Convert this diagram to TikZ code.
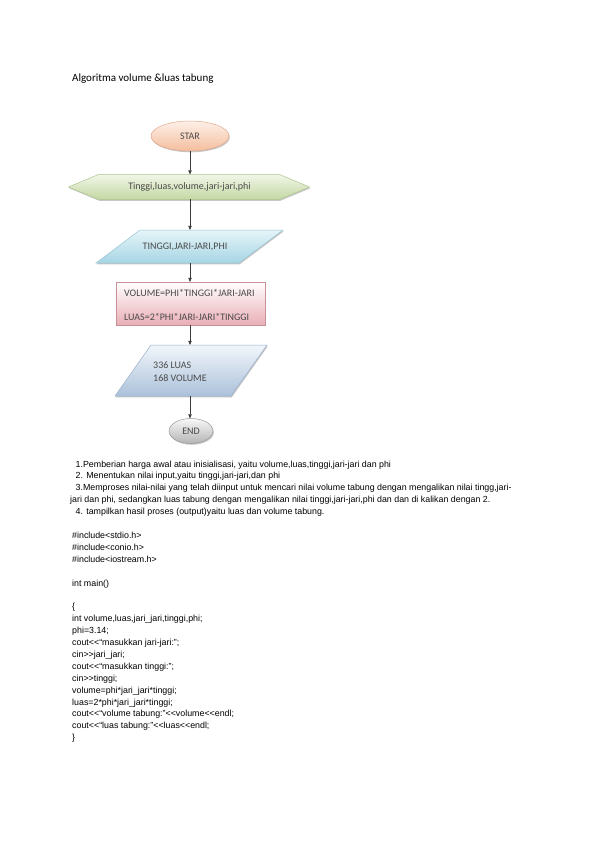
\documentclass[tikz,border=0pt]{standalone}
\usepackage{fontspec}
\setmainfont{Liberation Sans}[Ligatures=TeXOff]
\newfontfamily\calfont{Carlito}
\usetikzlibrary{shapes.geometric,arrows.meta,backgrounds,shadows}
\definecolor{fcgray}{HTML}{4A4A4A}
\definecolor{arrgray}{HTML}{3A3A3A}
\definecolor{starT}{HTML}{FDF0E8}
\definecolor{starB}{HTML}{F5BE9E}
\definecolor{starD}{HTML}{E4A888}
\definecolor{hexT}{HTML}{F1F6E8}
\definecolor{hexB}{HTML}{C4D8A2}
\definecolor{hexD}{HTML}{AFC68C}
\definecolor{ioaT}{HTML}{E6F5F9}
\definecolor{ioaB}{HTML}{A6D5E4}
\definecolor{ioaD}{HTML}{98C4D4}
\definecolor{rectB}{HTML}{E9AEB6}
\definecolor{rectD}{HTML}{C99098}
\definecolor{iobT}{HTML}{F2F6FB}
\definecolor{iobB}{HTML}{ABC1DA}
\definecolor{iobD}{HTML}{98B0CC}
\definecolor{endT}{HTML}{F8F8F8}
\definecolor{endB}{HTML}{B4B4B4}
\definecolor{endD}{HTML}{9A9A9A}
\begin{document}
\begin{tikzpicture}[x=1pt,y=-1pt,
  ph/.style={inner sep=0pt, outer sep=0pt, draw=none},
  fc/.style={font=\calfont\fontsize{10}{12}\selectfont, text=fcgray, inner sep=0pt},
  bodytext/.style={font=\fontsize{8.85}{11}\selectfont, anchor=base west, inner sep=0pt},
  arr/.style={draw=arrgray, line width=0.6pt, -{Triangle[width=3.4pt,length=4.2pt]}},
  sh/.style={drop shadow={shadow xshift=0.8pt, shadow yshift=-1.3pt, opacity=0.22, fill=black}},
  edge/.style={line width=0.5pt}]
\useasboundingbox (0,0) rectangle (595,842);

% title
\node[font=\calfont\fontsize{11}{13}\selectfont, anchor=base west, inner sep=0pt] (title) at (72,81.5) {Algoritma volume \&luas tabung};

% flowchart
\node[ellipse, ph, minimum width=78pt, minimum height=30pt, top color=starT, bottom color=starB, draw=starD, edge, sh, fc] (star) at (190,136) {STAR};

\node[ph, minimum width=241pt, minimum height=25pt] (hex) at (189,187) {};
\node[fc] (hext) at (189.5,187) {Tinggi,luas,volume,jari-jari,phi};

\node[ph, minimum width=187pt, minimum height=33pt] (ioa) at (189.5,246.5) {};
\node[fc] (ioat) at (185,246.5) {TINGGI,JARI-JARI,PHI};

\node[rectangle, ph, minimum width=149pt, minimum height=43pt, top color=white, bottom color=rectB, draw=rectD, edge, sh] (proc) at (190.5,303.5) {};
\node[fc, anchor=west] (proca) at (124,293) {VOLUME=PHI*TINGGI*JARI-JARI};
\node[fc, anchor=west] (procb) at (124,317) {LUAS=2*PHI*JARI-JARI*TINGGI};

\node[ph, minimum width=152pt, minimum height=51pt] (iob) at (191,370.5) {};
\node[fc, anchor=west] (iobta) at (153,365) {336 LUAS};
\node[fc, anchor=west] (iobtb) at (153,378.5) {168 VOLUME};

\node[ellipse, ph, minimum width=44pt, minimum height=25pt, top color=endT, bottom color=endB, draw=endD, edge, sh, fc] (end) at (191,431) {END};

\begin{scope}[on background layer]
\fill[white] (0,0) rectangle (595,842);
\shade[top color=hexT, bottom color=hexB, draw=hexD, edge, sh]
  (hex.west) -- ([xshift=30pt]hex.north west) -- ([xshift=-30pt]hex.north east) -- (hex.east)
  -- ([xshift=-30pt]hex.south east) -- ([xshift=30pt]hex.south west) -- cycle;
\shade[top color=ioaT, bottom color=ioaB, draw=ioaD, edge, sh]
  ([xshift=44pt]ioa.north west) -- (ioa.north east) -- ([xshift=-44pt]ioa.south east) -- (ioa.south west) -- cycle;
\shade[top color=iobT, bottom color=iobB, draw=iobD, edge, sh]
  ([xshift=36pt]iob.north west) -- (iob.north east) -- ([xshift=-36pt]iob.south east) -- (iob.south west) -- cycle;
\end{scope}

% connectors
\draw[arr] (star.south) -- (star.south |- hex.north);
\draw[arr] (hex.south -| star) -- (ioa.north -| star);
\draw[arr] (ioa.south -| star) -- (proc.north -| star);
\draw[arr] (proc.south -| star) -- (iob.north -| star);
\draw[arr] (iob.south -| star) -- (end.north -| star);

% description
\node[bodytext] (d1) at (75.5,467) {1.Pemberian harga awal atau inisialisasi, yaitu volume,luas,tinggi,jari-jari dan phi};
\node[bodytext] (d2) at (75.5,478.9) {2. Menentukan nilai input,yaitu tinggi,jari-jari,dan phi};
\node[bodytext] (d3) at (75.5,490.8) {3.Memproses nilai-nilai yang telah diinput untuk mencari nilai volume tabung dengan mengalikan nilai tingg,jari-};
\node[bodytext] (d4) at (70,502.7) {jari dan phi, sedangkan luas tabung dengan mengalikan nilai tinggi,jari-jari,phi dan dan di kalikan dengan 2.};
\node[bodytext] (d5) at (75.5,514.6) {4. tampilkan hasil proses (output)yaitu luas dan volume tabung.};

% code
\node[bodytext] (c1) at (72,538.4) {\#include<stdio.h>};
\node[bodytext] (c2) at (72,550.3) {\#include<conio.h>};
\node[bodytext] (c3) at (72,562.2) {\#include<iostream.h>};
\node[bodytext] (c4) at (72,586.0) {int main()};
\node[bodytext] (c5) at (72,609.8) {\{};
\node[bodytext] (c6) at (72,621.7) {int volume,luas,jari\_jari,tinggi,phi;};
\node[bodytext] (c7) at (72,633.6) {phi=3.14;};
\node[bodytext] (c8) at (72,645.5) {cout<<“masukkan jari-jari:”;};
\node[bodytext] (c9) at (72,657.4) {cin>>jari\_jari;};
\node[bodytext] (c10) at (72,669.3) {cout<<“masukkan tinggi:”;};
\node[bodytext] (c11) at (72,681.2) {cin>>tinggi;};
\node[bodytext] (c12) at (72,693.1) {volume=phi*jari\_jari*tinggi;};
\node[bodytext] (c13) at (72,705.0) {luas=2*phi*jari\_jari*tinggi;};
\node[bodytext] (c14) at (72,716.9) {cout<<“volume tabung:”<<volume<<endl;};
\node[bodytext] (c15) at (72,728.8) {cout<<“luas tabung:”<<luas<<endl;};
\node[bodytext] (c16) at (72,740.7) {\}};
\end{tikzpicture}
\end{document}
